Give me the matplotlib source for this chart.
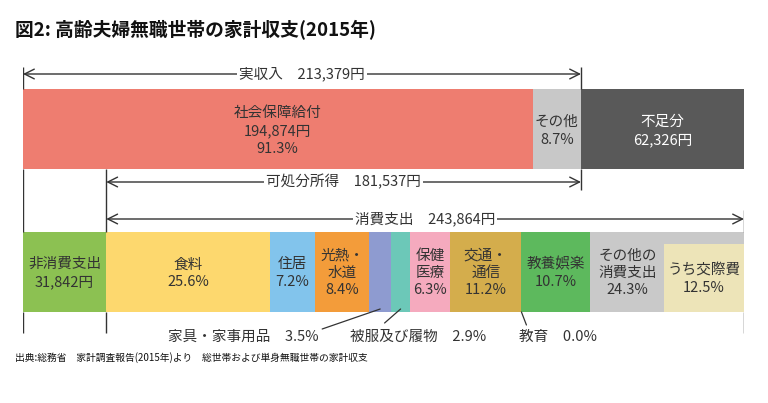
import matplotlib
matplotlib.use("Agg")
import matplotlib.pyplot as plt

plt.rcParams["font.family"] = ["Noto Sans CJK JP", "DejaVu Sans"]

# income side (yen / month)
income_total = 213379
social_security = 194874
social_security_pct = 91.3
other_income_pct = 8.7
shortfall = 62326
disposable = 181537

# spending side
non_consumption = 31842
consumption = 243864
cons_labels = ["食料\n25.6%", "住居\n7.2%", "光熱・\n水道\n8.4%", "", "",
               "保健\n医療\n6.3%", "交通・\n通信\n11.2%", "", "教養娯楽\n10.7%",
               "その他の\n消費支出\n24.3%"]
cons_pct = [25.6, 7.2, 8.4, 3.5, 2.9, 6.3, 11.2, 0.0, 10.7, 24.3]
cons_colors = ["#FDD86E", "#82C4EC", "#F39C3A", "#8E9BD0", "#6CC8B8",
               "#F5AABE", "#D4AD4C", "#D4AD4C", "#5DB95D", "#C9C9C9"]
kousai_pct = 12.5
# small segments labelled outside the bar
outside_idx = [3, 4, 7]
outside_lab = ["家具・家事用品　3.5%", "被服及び履物　2.9%", "教育　0.0%"]

TXT = "#333333"
total = income_total + shortfall
kw = consumption * kousai_pct / 100

fig = plt.figure(figsize=(7.68, 4.03), dpi=100)
ax = fig.add_axes([23/768, 0, 721/768, 1])
ax.set_xlim(0, total)
ax.set_ylim(403, 0)
ax.axis("off")

# ---- top bar: income
other_income = income_total - social_security
ax.barh(129, social_security, left=0, height=80, color="#EE7D70")
ax.barh(129, other_income, left=social_security, height=80, color="#C8C8C8")
ax.barh(129, shortfall, left=income_total, height=80, color="#595959")
ax.text(social_security/2, 131, f"社会保障給付\n{social_security:,}円\n{social_security_pct}%",
        ha="center", va="center", fontsize=10.5, color=TXT, linespacing=1.35)
ax.text(social_security + other_income/2, 131, f"その他\n{other_income_pct}%",
        ha="center", va="center", fontsize=10.5, color=TXT, linespacing=1.35)
ax.text(income_total + shortfall/2, 131, f"不足分\n{shortfall:,}円",
        ha="center", va="center", fontsize=10.5, color="white", linespacing=1.35)

# ---- bottom bar: spending
ax.barh(272, non_consumption, left=0, height=80, color="#8CC152")
ax.text(non_consumption/2, 273, f"非消費支出\n{non_consumption:,}円",
        ha="center", va="center", fontsize=10.5, color=TXT, linespacing=1.35)
lefts = []
x = non_consumption
for i, (lab, p, c) in enumerate(zip(cons_labels, cons_pct, cons_colors)):
    w = consumption * p / 100
    lefts.append(x)
    ax.barh(272, w, left=x, height=80, color=c)
    if lab:
        cx = x + w/2
        if i == len(cons_pct) - 1:   # last one shares room with the 交際費 box
            cx = x + (w - kw)/2
        ax.text(cx, 273, lab, ha="center", va="center", fontsize=10.5,
                color=TXT, linespacing=1.3)
    x += w
ax.barh(278, kw, left=total - kw, height=68, color="#EDE4B8")
ax.text(total - kw/2, 279, f"うち交際費\n{kousai_pct}%", ha="center", va="center",
        fontsize=10.5, color=TXT, linespacing=1.35)

# ---- dimension arrows
def dim(x0, x1, y, label):
    ax.annotate("", xy=(x0, y), xytext=(x1, y),
                arrowprops=dict(arrowstyle="<->,head_length=0.7,head_width=0.35",
                                lw=1, color=TXT, shrinkA=0, shrinkB=0, mutation_scale=10))
    ax.text((x0 + x1)/2, y, label, ha="center", va="center", fontsize=10.5, color=TXT,
            bbox=dict(facecolor="white", edgecolor="none", pad=1.5))

dim(0, income_total, 74, f"実収入　{income_total:,}円")
dim(non_consumption, income_total, 182, f"可処分所得　{disposable:,}円")
dim(non_consumption, total, 219, f"消費支出　{consumption:,}円")

vk = dict(color=TXT, lw=1)
ax.vlines([0, income_total], 67, 89, **vk)
ax.vlines([0, non_consumption], 169, 232, **vk)
ax.vlines([income_total], 169, 190, **vk)
ax.vlines([total], 210, 232, **vk)
ax.vlines([0, non_consumption, total], 312, 333, **vk)

# ---- leaders for the thin segments (line start y, line end offset px, text offset px)
leader = {3: (309, (-58, -20), -137), 4: (309, (-16, -14), 18), 7: (312, (5, -13), 37)}
for i, lab in zip(outside_idx, outside_lab):
    cx = lefts[i] + consumption * cons_pct[i] / 200
    y0, (dx, dy), tx = leader[i]
    ax.annotate("", xy=(cx, y0), xytext=(dx, dy), textcoords="offset pixels",
                arrowprops=dict(arrowstyle="-", lw=0.9, color=TXT, shrinkA=0, shrinkB=0))
    ax.annotate(lab, xy=(cx, 337), xytext=(tx, 0), textcoords="offset pixels",
                ha="center", va="center", fontsize=10.5, color=TXT)

fig.text(15/768, 1 - 30/403, "図2: 高齢夫婦無職世帯の家計収支(2015年)", ha="left", va="center",
         fontsize=13.5, fontweight="bold", color="#111111")
fig.text(15/768, 1 - 358/403, "出典:総務省　家計調査報告(2015年)より　総世帯および単身無職世帯の家計収支",
         ha="left", va="center", fontsize=7.0, color="#111111")

fig.savefig("out.png", dpi=100)
